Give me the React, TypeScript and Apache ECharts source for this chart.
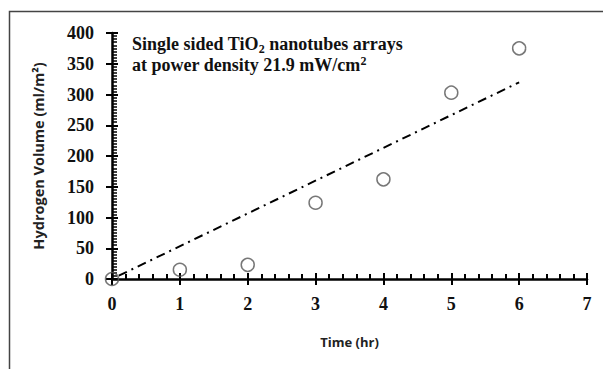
import React, { useEffect, useRef } from "react";
import * as echarts from "echarts";

const timeHr = [0, 1, 2, 3, 4, 5, 6];
const hydrogenVolume = [0, 15, 23, 124, 162, 303, 375];
const fitX = [0.1, 6];
const fitSlope = 53.3;
const fitLine = fitX.map((x) => [x, x * fitSlope]);

const xTitle = "Time (hr)";
const yTitle = "Hydrogen Volume (ml/m²)";

export default function App() {
  const ref = useRef<HTMLDivElement>(null);
  useEffect(() => {
    document.body.style.margin = "0";
    const chart = echarts.init(ref.current!, null, { renderer: "svg" });
    const serif = "'Liberation Serif', 'Times New Roman', serif";
    const sans = "'Open Sans', 'Noto Sans', sans-serif";
    const yBase = {
      type: "value",
      min: 0,
      max: 400,
      interval: 50,
      splitLine: { show: false },
      axisLine: { show: true, lineStyle: { color: "#000", width: 2.5 } },
    };
    chart.setOption({
      animation: false,
      backgroundColor: "#fff",
      grid: { left: 112, right: 16, top: 33, bottom: 90 },
      xAxis: [
        {
          type: "value",
          min: 0,
          max: 7,
          interval: 1,
          name: xTitle,
          nameLocation: "middle",
          nameGap: 56,
          nameTextStyle: { fontFamily: sans, fontWeight: "bold", fontSize: 13, color: "#222" },
          splitLine: { show: false },
          axisLine: { show: true, onZero: false, lineStyle: { color: "#000", width: 2.5 } },
          axisTick: { show: true, inside: false, length: 6, lineStyle: { color: "#000", width: 2 } },
          axisLabel: { fontFamily: serif, fontWeight: "bold", fontSize: 18, color: "#111", margin: 16 },
        },
        {
          type: "value",
          min: 0,
          max: 7,
          interval: 1,
          position: "bottom",
          offset: 0,
          splitLine: { show: false },
          axisLine: { show: false },
          axisTick: { show: true, inside: true, length: 6, lineStyle: { color: "#000", width: 2 } },
          minorTick: { show: true, splitNumber: 5, length: 5, lineStyle: { color: "#000", width: 2 } },
          axisLabel: { show: false },
        },
      ],
      yAxis: [
        {
          ...yBase,
          name: yTitle,
          nameLocation: "middle",
          nameGap: 66,
          nameTextStyle: { fontFamily: sans, fontWeight: "bold", fontSize: 14.5, color: "#222" },
          axisTick: { show: true, inside: false, length: 6, lineStyle: { color: "#000", width: 2 } },
          axisLabel: { fontFamily: serif, fontWeight: "bold", fontSize: 18, color: "#111", margin: 18 },
        },
        {
          ...yBase,
          position: "left",
          offset: 0,
          axisLine: { show: false },
          axisTick: { show: true, inside: true, length: 6, lineStyle: { color: "#000", width: 2 } },
          minorTick: { show: true, splitNumber: 10, length: 5, lineStyle: { color: "#000", width: 1.5 } },
          axisLabel: { show: false },
        },
      ],
      series: [
        {
          type: "line",
          data: fitLine,
          symbol: "none",
          lineStyle: { color: "#000", width: 2, type: [9, 5, 2, 5] },
          z: 2,
        },
        {
          type: "scatter",
          data: timeHr.map((t, i) => [t, hydrogenVolume[i]]),
          symbol: "circle",
          symbolSize: 13,
          itemStyle: { color: "rgba(255,255,255,0)", borderColor: "#555", borderWidth: 1.5 },
          z: 3,
        },
      ],
      graphic: [
        {
          type: "polyline",
          shape: { points: [[9.5, 400], [9.5, 11.5], [610, 11.5]] },
          style: { stroke: "#444", lineWidth: 1.5, fill: "none" },
          silent: true,
        },
        {
          type: "text",
          left: 132,
          top: 35,
          style: {
            text: "{a|Single sided TiO}{sub|2}{a| nanotubes arrays}\n{a|at power density 21.9 mW/cm}{sup|2}",
            rich: {
              a: { fontFamily: serif, fontWeight: "bold", fontSize: 18, lineHeight: 21, fill: "#111", verticalAlign: "middle" },
              sub: { fontFamily: serif, fontWeight: "bold", fontSize: 12, lineHeight: 12, fill: "#111", verticalAlign: "bottom" },
              sup: { fontFamily: serif, fontWeight: "bold", fontSize: 12, lineHeight: 12, fill: "#111", verticalAlign: "top" },
            },
          },
        },
      ],
    });
    return () => chart.dispose();
  }, []);
  return <div ref={ref} style={{ width: 603, height: 369 }} />;
}
